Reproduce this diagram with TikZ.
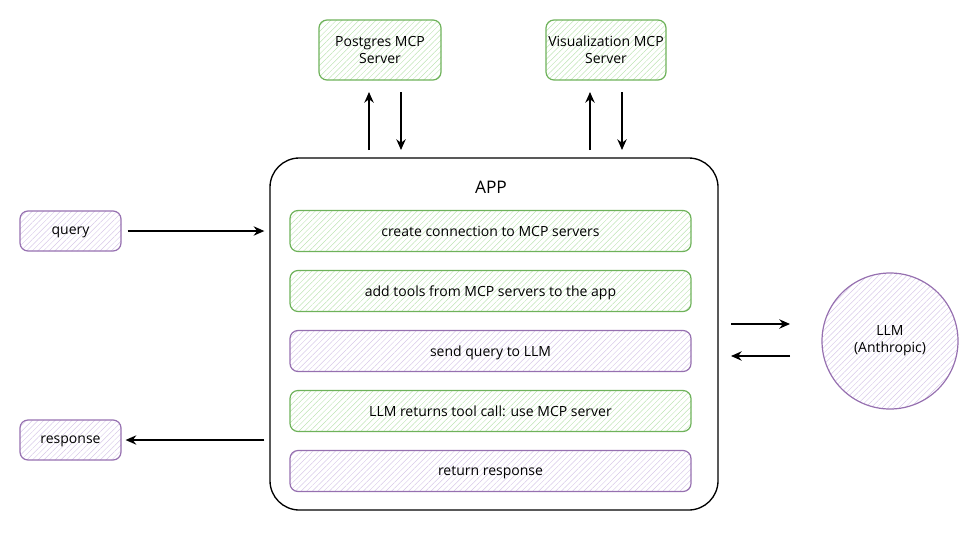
\documentclass[tikz,border=0pt]{standalone}
\usepackage{fontspec}
\setmainfont{Open Sans}
\usetikzlibrary{arrows.meta,patterns.meta,calc}
\definecolor{gstroke}{RGB}{110,178,90}
\definecolor{gfill}{RGB}{190,228,180}
\definecolor{pstroke}{RGB}{150,112,176}
\definecolor{pfill}{RGB}{215,200,232}
\tikzset{
  gbox/.style={draw=gstroke, line width=0.9pt, rounded corners=6pt,
    pattern={Lines[angle=45,distance=3pt,line width=0.35pt]}, pattern color=gfill,
    align=center, font=\fontsize{10.5}{13}\selectfont, inner sep=0pt, text depth=0pt},
  pbox/.style={draw=pstroke, line width=0.9pt, rounded corners=6pt,
    pattern={Lines[angle=45,distance=3pt,line width=0.35pt]}, pattern color=pfill,
    align=center, font=\fontsize{10.5}{13}\selectfont, inner sep=0pt, text depth=0pt},
  arr/.style={-{Stealth[length=8pt,width=7pt]}, line width=1.2pt, black},
}
\begin{document}
\begin{tikzpicture}[x=0.75pt,y=-0.75pt]
\useasboundingbox (0,0) rectangle (973,532);
% MCP servers
\node[gbox, minimum width=91.5pt, minimum height=45pt] (pg) at (380,50) {Postgres MCP\\Server};
\node[gbox, minimum width=90pt, minimum height=45pt] (viz) at (606,50) {Visualization MCP\\Server};
% APP
\node[draw=black, line width=1pt, rounded corners=22pt, minimum width=336pt, minimum height=264pt, inner sep=0pt] (app) at (494,334) {};
\node[font=\fontsize{13}{15}\selectfont] (title) at (491,187) {APP};
\node[gbox, minimum width=300.75pt, minimum height=30.75pt] (s1) at (490.5,231) {create connection to MCP servers};
\node[gbox, minimum width=300.75pt, minimum height=30.75pt] (s2) at (490.5,291) {add tools from MCP servers to the app};
\node[pbox, minimum width=300.75pt, minimum height=30.75pt] (s3) at (490.5,351) {send query to LLM};
\node[gbox, minimum width=300.75pt, minimum height=30.75pt] (s4) at (490.5,411) {LLM returns tool call: use MCP server};
\node[pbox, minimum width=300.75pt, minimum height=30.75pt] (s5) at (490.5,471) {return response};
% query / response
\node[pbox, minimum width=75.75pt, minimum height=30pt] (query) at (70.5,231) {query};
\node[pbox, minimum width=75.75pt, minimum height=30pt] (resp) at (70.5,440) {response};
% LLM
\node[circle, draw=pstroke, line width=0.9pt, minimum size=102pt, inner sep=0pt,
  pattern={Lines[angle=45,distance=3pt,line width=0.35pt]}, pattern color=pfill,
  align=center, font=\fontsize{10.5}{13}\selectfont] (llm) at (890,341) {LLM\\(Anthropic)};
% connector end points
\coordinate (pgup) at (369,150);
\coordinate (pgdn) at (401,150);
\coordinate (vzup) at (590,150);
\coordinate (vzdn) at (622,150);
\coordinate (l1a) at (731,324);
\coordinate (l1b) at (790,324);
\coordinate (l2a) at (790,356);
\coordinate (l2b) at (731,356);
% arrows
\draw[arr] (pgup) -- (pgup |- 0,92);
\draw[arr] (pgdn |- 0,92) -- (pgdn);
\draw[arr] (vzup) -- (vzup |- 0,92);
\draw[arr] (vzdn |- 0,92) -- (vzdn);
\draw[arr, shorten <=4.5pt, shorten >=3.75pt] (query.east) -- (app.west |- query.east);
\draw[arr, shorten <=3.75pt, shorten >=3pt] (app.west |- resp.east) -- (resp.east);
\draw[arr] (l1a) -- (l1b);
\draw[arr] (l2a) -- (l2b);
\end{tikzpicture}
\end{document}
